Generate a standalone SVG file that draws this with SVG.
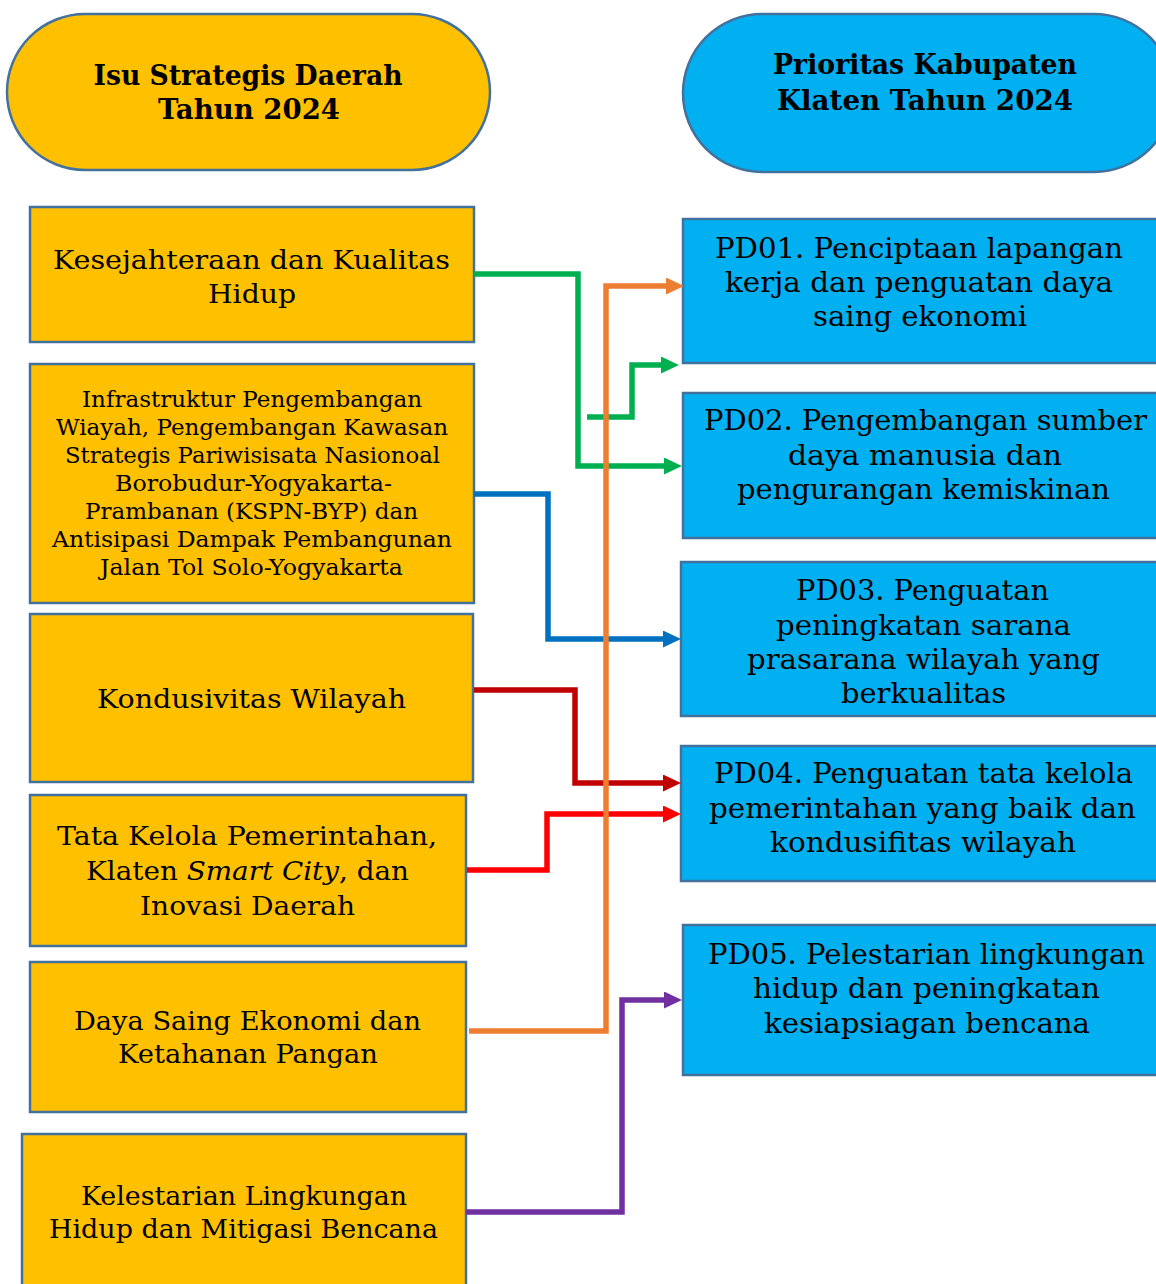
<svg xmlns="http://www.w3.org/2000/svg" width="1156" height="1284" viewBox="0 0 1156 1284">
<style>
.y{fill:#FFC000;stroke:#41719C;stroke-width:2.5}
.b{fill:#00B0F0;stroke:#41719C;stroke-width:2.5}
text{font-family:"DejaVu Serif","Liberation Serif",serif;fill:#000;text-anchor:middle}
.h{font-weight:bold;font-size:28.5px}
.t{font-size:26px}
.r{font-size:27px}
.s{font-size:21.5px}
.c{fill:none;stroke-width:5.5}
</style>
<defs>
<marker id="mg" markerUnits="userSpaceOnUse" markerWidth="19" markerHeight="18" refX="0" refY="8.5" orient="auto"><path d="M0,0L18,8.5L0,17z" fill="#00B050"/></marker>
<marker id="mo" markerUnits="userSpaceOnUse" markerWidth="19" markerHeight="18" refX="0" refY="8.5" orient="auto"><path d="M0,0L18,8.5L0,17z" fill="#ED7D31"/></marker>
<marker id="mb" markerUnits="userSpaceOnUse" markerWidth="19" markerHeight="18" refX="0" refY="8.5" orient="auto"><path d="M0,0L18,8.5L0,17z" fill="#0070C0"/></marker>
<marker id="md" markerUnits="userSpaceOnUse" markerWidth="19" markerHeight="18" refX="0" refY="8.5" orient="auto"><path d="M0,0L18,8.5L0,17z" fill="#C00000"/></marker>
<marker id="mr" markerUnits="userSpaceOnUse" markerWidth="19" markerHeight="18" refX="0" refY="8.5" orient="auto"><path d="M0,0L18,8.5L0,17z" fill="#FF0000"/></marker>
<marker id="mp" markerUnits="userSpaceOnUse" markerWidth="19" markerHeight="18" refX="0" refY="8.5" orient="auto"><path d="M0,0L18,8.5L0,17z" fill="#7030A0"/></marker>
</defs>
<rect width="1156" height="1284" fill="#fff"/>

<g id="header-isu">
<rect class="y" x="7" y="14" width="483" height="156" rx="78" ry="78"/>
<text class="h" x="248" y="85" textLength="309" lengthAdjust="spacingAndGlyphs">Isu Strategis Daerah</text>
<text class="h" x="249" y="119" textLength="182" lengthAdjust="spacingAndGlyphs">Tahun 2024</text>
</g>
<g id="header-prioritas">
<rect class="b" x="683" y="14" width="490" height="158" rx="79" ry="79"/>
<text class="h" x="925" y="74" textLength="304" lengthAdjust="spacingAndGlyphs">Prioritas Kabupaten</text>
<text class="h" x="925" y="110" textLength="296" lengthAdjust="spacingAndGlyphs">Klaten Tahun 2024</text>
</g>

<g id="isu1">
<rect class="y" x="30" y="207" width="444" height="135"/>
<text class="t" x="251.5" y="269" textLength="397" lengthAdjust="spacingAndGlyphs">Kesejahteraan dan Kualitas</text>
<text class="t" x="252" y="303" textLength="88" lengthAdjust="spacingAndGlyphs">Hidup</text>
</g>
<g id="isu2">
<rect class="y" x="30" y="364" width="444" height="239"/>
<text class="s" x="252" y="407" textLength="340" lengthAdjust="spacingAndGlyphs">Infrastruktur Pengembangan</text>
<text class="s" x="252" y="435" textLength="392" lengthAdjust="spacingAndGlyphs">Wiayah, Pengembangan Kawasan</text>
<text class="s" x="252.5" y="463" textLength="375" lengthAdjust="spacingAndGlyphs">Strategis Pariwisisata Nasionoal</text>
<text class="s" x="253.5" y="491" textLength="277" lengthAdjust="spacingAndGlyphs">Borobudur-Yogyakarta-</text>
<text class="s" x="251.5" y="519" textLength="333" lengthAdjust="spacingAndGlyphs">Prambanan (KSPN-BYP) dan</text>
<text class="s" x="252" y="547" textLength="400" lengthAdjust="spacingAndGlyphs">Antisipasi Dampak Pembangunan</text>
<text class="s" x="251.5" y="575" textLength="303" lengthAdjust="spacingAndGlyphs">Jalan Tol Solo-Yogyakarta</text>
</g>
<g id="isu3">
<rect class="y" x="30" y="614" width="443" height="168"/>
<text class="t" x="251.5" y="708" textLength="309" lengthAdjust="spacingAndGlyphs">Kondusivitas Wilayah</text>
</g>
<g id="isu4">
<rect class="y" x="30" y="795" width="436" height="151"/>
<text class="t" x="247" y="845" textLength="380" lengthAdjust="spacingAndGlyphs">Tata Kelola Pemerintahan,</text>
<text class="t" x="247.5" y="880" textLength="323" lengthAdjust="spacingAndGlyphs">Klaten <tspan font-style="italic">Smart City</tspan>, dan</text>
<text class="t" x="247.5" y="915" textLength="215" lengthAdjust="spacingAndGlyphs">Inovasi Daerah</text>
</g>
<g id="isu5">
<rect class="y" x="30" y="962" width="436" height="150"/>
<text class="t" x="247.5" y="1030" textLength="347" lengthAdjust="spacingAndGlyphs">Daya Saing Ekonomi dan</text>
<text class="t" x="248" y="1063" textLength="260" lengthAdjust="spacingAndGlyphs">Ketahanan Pangan</text>
</g>
<g id="isu6">
<rect class="y" x="22" y="1134" width="444" height="160"/>
<text class="t" x="244" y="1205" textLength="326" lengthAdjust="spacingAndGlyphs">Kelestarian Lingkungan</text>
<text class="t" x="243.5" y="1238" textLength="389" lengthAdjust="spacingAndGlyphs">Hidup dan Mitigasi Bencana</text>
</g>

<g id="pd01">
<rect class="b" x="683" y="219" width="490" height="144"/>
<text class="r" x="919" y="258" textLength="408" lengthAdjust="spacingAndGlyphs">PD01. Penciptaan lapangan</text>
<text class="r" x="919" y="292" textLength="388" lengthAdjust="spacingAndGlyphs">kerja dan penguatan daya</text>
<text class="r" x="920" y="326" textLength="214" lengthAdjust="spacingAndGlyphs">saing ekonomi</text>
</g>
<g id="pd02">
<rect class="b" x="683" y="393" width="490" height="145"/>
<text class="r" x="925.5" y="430" textLength="443" lengthAdjust="spacingAndGlyphs">PD02. Pengembangan sumber</text>
<text class="r" x="925" y="465" textLength="274" lengthAdjust="spacingAndGlyphs">daya manusia dan</text>
<text class="r" x="923.5" y="499" textLength="373" lengthAdjust="spacingAndGlyphs">pengurangan kemiskinan</text>
</g>
<g id="pd03">
<rect class="b" x="681" y="562" width="492" height="154"/>
<text class="r" x="922.5" y="600" textLength="253" lengthAdjust="spacingAndGlyphs">PD03. Penguatan</text>
<text class="r" x="923.5" y="635" textLength="295" lengthAdjust="spacingAndGlyphs">peningkatan sarana</text>
<text class="r" x="923.5" y="669" textLength="353" lengthAdjust="spacingAndGlyphs">prasarana wilayah yang</text>
<text class="r" x="923.5" y="703" textLength="165" lengthAdjust="spacingAndGlyphs">berkualitas</text>
</g>
<g id="pd04">
<rect class="b" x="681" y="746" width="492" height="135"/>
<text class="r" x="923.5" y="783" textLength="419" lengthAdjust="spacingAndGlyphs">PD04. Penguatan tata kelola</text>
<text class="r" x="922.5" y="818" textLength="427" lengthAdjust="spacingAndGlyphs">pemerintahan yang baik dan</text>
<text class="r" x="923" y="852" textLength="306" lengthAdjust="spacingAndGlyphs">kondusifitas wilayah</text>
</g>
<g id="pd05">
<rect class="b" x="683" y="925" width="490" height="150"/>
<text class="r" x="926.5" y="964" textLength="437" lengthAdjust="spacingAndGlyphs">PD05. Pelestarian lingkungan</text>
<text class="r" x="926.5" y="998" textLength="347" lengthAdjust="spacingAndGlyphs">hidup dan peningkatan</text>
<text class="r" x="927" y="1033" textLength="326" lengthAdjust="spacingAndGlyphs">kesiapsiagan bencana</text>
</g>

<g id="connectors">
<path class="c" stroke="#00B050" d="M474,274H578V466H664" marker-end="url(#mg)"/>
<path class="c" stroke="#00B050" d="M587,417H632V365H661" marker-end="url(#mg)"/>
<path class="c" stroke="#0070C0" d="M474,494H548V639H663" marker-end="url(#mb)"/>
<path class="c" stroke="#C00000" d="M474,690H575V783H663" marker-end="url(#md)"/>
<path class="c" stroke="#FF0000" d="M467,870H547V814H663" marker-end="url(#mr)"/>
<path class="c" stroke="#7030A0" d="M466,1212H622V1000H664" marker-end="url(#mp)"/>
<path class="c" stroke="#ED7D31" d="M469,1031H606V286H666" marker-end="url(#mo)"/>
</g>
</svg>
